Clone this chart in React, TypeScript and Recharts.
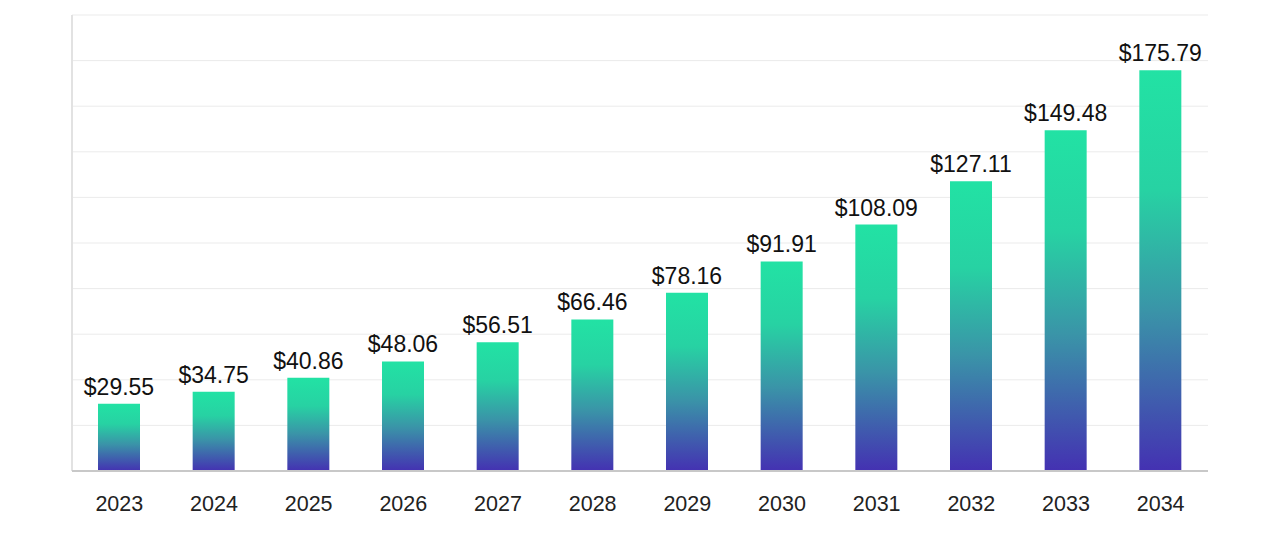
import { BarChart, Bar, CartesianGrid, XAxis, YAxis, LabelList } from 'recharts'

const years = ['2023', '2024', '2025', '2026', '2027', '2028', '2029', '2030', '2031', '2032', '2033', '2034']
const revenue = [29.55, 34.75, 40.86, 48.06, 56.51, 66.46, 78.16, 91.91, 108.09, 127.11, 149.48, 175.79]
const yTicks = [0, 20, 40, 60, 80, 100, 120, 140, 160, 180, 200]

const data = years.map((year, i) => ({ year, value: revenue[i] }))

const font = '"Liberation Sans", Arial, sans-serif'

export default function App() {
  return (
    <div style={{ width: 1264, height: 519, background: '#fff', fontFamily: font }}>
      <BarChart width={1264} height={519} data={data} margin={{ top: 7, right: 64, bottom: 18, left: 63 }}>
        <defs>
          <linearGradient id="barFill" x1="0" y1="0" x2="0" y2="1">
            <stop offset="0%" stopColor="#22e2a4" />
            <stop offset="30%" stopColor="#27d2a3" />
            <stop offset="60%" stopColor="#3a94a8" />
            <stop offset="100%" stopColor="#4431b2" />
          </linearGradient>
        </defs>
        <CartesianGrid vertical={false} stroke="#ebebeb" />
        <YAxis
          width={1}
          domain={[0, 200]}
          ticks={yTicks}
          interval={0}
          tick={{ fill: 'transparent', fontSize: 1 }}
          tickLine={false}
          axisLine={{ stroke: '#e2e2e2', strokeWidth: 2 }}
        />
        <XAxis
          dataKey="year"
          height={38}
          tickLine={false}
          axisLine={{ stroke: '#c8c8c8', strokeWidth: 2 }}
          tick={{ fill: '#222', fontSize: 21.5, fontFamily: font }}
          tickMargin={19}
        />
        <Bar dataKey="value" fill="url(#barFill)" barSize={42} isAnimationActive={false}>
          <LabelList
            dataKey="value"
            position="top"
            offset={9}
            formatter={(v: number) => `$${v.toFixed(2)}`}
            style={{ fill: '#111', fontSize: 23, fontFamily: font }}
          />
        </Bar>
      </BarChart>
    </div>
  )
}
